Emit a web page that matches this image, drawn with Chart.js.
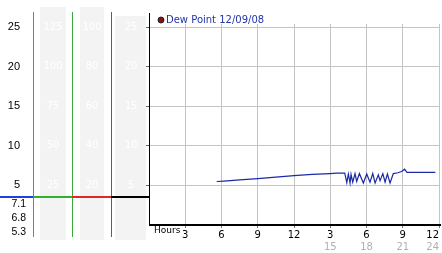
<!DOCTYPE html>
<html>
<head>
<meta charset="utf-8">
<script src="https://cdn.jsdelivr.net/npm/chart.js@4"></script>
<style>
  html, body { margin: 0; padding: 0; background: #fff; }
  #chart { display: block; }
</style>
</head>
<body>
<canvas id="chart" width="442" height="253"></canvas>
<script>
// dew point readings, hour of day -> value
var seriesLabel = "Dew Point 12/09/08";
var hours = [5.6, 6.2, 7.5, 9.0, 10.5, 12.0, 13.5, 15.0, 15.5, 16.2,
             16.37, 16.5, 16.64, 16.72, 16.86, 17.05, 17.19, 17.41, 17.74, 18.02,
             18.29, 18.52, 18.71, 18.98, 19.12, 19.35, 19.54, 19.73, 19.95, 20.22,
             20.6, 20.9, 21.15, 21.35, 21.6, 23.7];
var dewPoint = [5.5, 5.55, 5.7, 5.85, 6.05, 6.25, 6.4, 6.5, 6.55, 6.55,
                5.35, 6.45, 5.3, 6.4, 5.4, 6.5, 5.5, 6.5, 5.3, 6.45,
                5.4, 6.5, 5.3, 6.35, 5.6, 6.5, 5.4, 6.45, 5.3, 6.5,
                6.6, 6.75, 7.05, 6.65, 6.65, 6.65];

// tick labels
var yTickLabels = ["", "5", "10", "15", "20", "25"];
var xTickLabels = ["", "3", "6", "9", "12", "3", "6", "9", "12"];
var pmTickLabels = ["", "", "", "", "", "15", "18", "21", "24"];

// scale columns on the left, and the max / current / min readout
var bandValues = [25, 20, 15, 10, 5];
var bandLabelsA = ["125", "100", "75", "50", "25"];
var bandLabelsB = ["100", "80", "60", "40", "20"];
var bandLabelsC = ["25", "20", "15", "10", "5"];
var statLabels = ["7.1", "6.8", "5.3"];

function noPad(s) {
    s.paddingTop = 0;
    s.paddingBottom = 0;
    s.paddingLeft = 0;
    s.paddingRight = 0;
}

function skipZero(color) {
    return function (c) {
        return c.tick && c.tick.value === 0 ? "rgba(0,0,0,0)" : color;
    };
}

var sideScale = {
    id: "sideScale",
    beforeDraw(chart) {
        var ctx = chart.ctx;
        var ys = chart.scales.y;
        ctx.save();
        ctx.fillStyle = "#f3f3f3";
        ctx.fillRect(40, 7, 26, 233);
        ctx.fillRect(80, 7, 24, 233);
        ctx.fillRect(115, 16, 31, 224);

        ctx.fillStyle = "#ffffff";
        ctx.font = "10px 'DejaVu Sans'";
        ctx.textAlign = "center";
        ctx.textBaseline = "middle";
        bandValues.forEach(function (v, i) {
            var py = ys.getPixelForValue(v);
            ctx.fillText(bandLabelsA[i], 53, py);
            ctx.fillText(bandLabelsB[i], 92, py);
            ctx.fillText(bandLabelsC[i], 131, py);
        });

        ctx.lineWidth = 1;
        [[33.5, "#3399cc"], [72.5, "#3aa83a"], [111.5, "#c83232"]].forEach(function (l) {
            ctx.strokeStyle = l[1];
            ctx.beginPath();
            ctx.moveTo(l[0], 12);
            ctx.lineTo(l[0], 237);
            ctx.stroke();
        });

        var hy = 197;
        ctx.lineWidth = 2;
        [[0, 33, "#2040e0"], [33, 72, "#30b030"], [72, 111, "#e02828"], [111, 149, "#000"]].forEach(function (s) {
            ctx.strokeStyle = s[2];
            ctx.beginPath();
            ctx.moveTo(s[0], hy);
            ctx.lineTo(s[1], hy);
            ctx.stroke();
        });

        ctx.fillStyle = "#000";
        ctx.font = "10.5px 'Liberation Sans'";
        ctx.textAlign = "right";
        statLabels.forEach(function (t, i) {
            ctx.fillText(t, 26, 204 + i * 14);
        });
        ctx.restore();
    },
    afterDraw(chart) {
        var ctx = chart.ctx;
        var area = chart.chartArea;
        var left = Math.round(area.left);
        var bottom = Math.round(area.bottom);
        ctx.save();
        // axes: the left one runs a bit above the plot
        ctx.fillStyle = "#000";
        ctx.fillRect(left, 13, 1, bottom - 13 + 1);
        ctx.fillRect(left, bottom - 1, 292, 2);

        // legend
        ctx.fillStyle = "#8b1010";
        ctx.strokeStyle = "#222";
        ctx.lineWidth = 1;
        ctx.beginPath();
        ctx.arc(161, 20, 3, 0, Math.PI * 2);
        ctx.fill();
        ctx.stroke();
        ctx.fillStyle = "#2233aa";
        ctx.font = "10px 'DejaVu Sans'";
        ctx.textAlign = "left";
        ctx.textBaseline = "middle";
        ctx.fillText(chart.data.datasets[0].label, 166, 20);

        ctx.fillStyle = "#000";
        ctx.font = "9px 'DejaVu Sans'";
        ctx.fillText("Hours", area.left + 5, 231);
        ctx.restore();
    }
};

new Chart(document.getElementById("chart"), {
    type: "line",
    data: {
        datasets: [{
            label: seriesLabel,
            data: hours.map(function (h, i) { return { x: h, y: dewPoint[i] }; }),
            borderColor: "#1c2aa8",
            borderWidth: 1.2,
            pointRadius: 0,
            tension: 0,
            fill: false
        }]
    },
    options: {
        responsive: false,
        animation: false,
        devicePixelRatio: 1,
        layout: { padding: { left: 0, right: 3, top: 24, bottom: 0 }, autoPadding: false },
        plugins: { legend: { display: false }, tooltip: { enabled: false } },
        scales: {
            x: {
                type: "linear",
                position: "bottom",
                min: 0,
                max: 24,
                weight: 0,
                afterFit: function (s) { s.height = 16; noPad(s); },
                grid: {
                    color: skipZero("#c4c4c4"),
                    tickLength: 3,
                    tickColor: skipZero("#777")
                },
                border: { display: true, color: "#000", width: 1 },
                ticks: {
                    stepSize: 3,
                    padding: 1,
                    align: "inner",
                    maxRotation: 0,
                    autoSkip: false,
                    color: "#000",
                    font: { family: "DejaVu Sans", size: 10 },
                    callback: function (v, i) { return xTickLabels[i]; }
                }
            },
            x2: {
                type: "linear",
                position: "bottom",
                min: 0,
                max: 24,
                weight: 1,
                afterFit: function (s) { s.height = 12; noPad(s); },
                grid: { display: false, drawTicks: false, tickLength: 0 },
                border: { display: false },
                ticks: {
                    stepSize: 3,
                    padding: 0,
                    align: "inner",
                    maxRotation: 0,
                    autoSkip: false,
                    color: "#b0b0b0",
                    font: { family: "DejaVu Sans", size: 10 },
                    callback: function (v, i) { return pmTickLabels[i]; }
                }
            },
            y: {
                min: 0,
                max: 25.4,
                afterFit: function (s) { s.width = 149; noPad(s); },
                grid: {
                    color: skipZero("#c4c4c4"),
                    tickLength: 3,
                    tickColor: skipZero("#666")
                },
                border: { display: true, color: "#000", width: 1 },
                ticks: {
                    stepSize: 5,
                    includeBounds: false,
                    padding: 126,
                    color: "#000",
                    font: { family: "Liberation Sans", size: 11 },
                    callback: function (v, i) { return yTickLabels[i]; }
                }
            }
        }
    },
    plugins: [sideScale]
});
</script>
</body>
</html>
